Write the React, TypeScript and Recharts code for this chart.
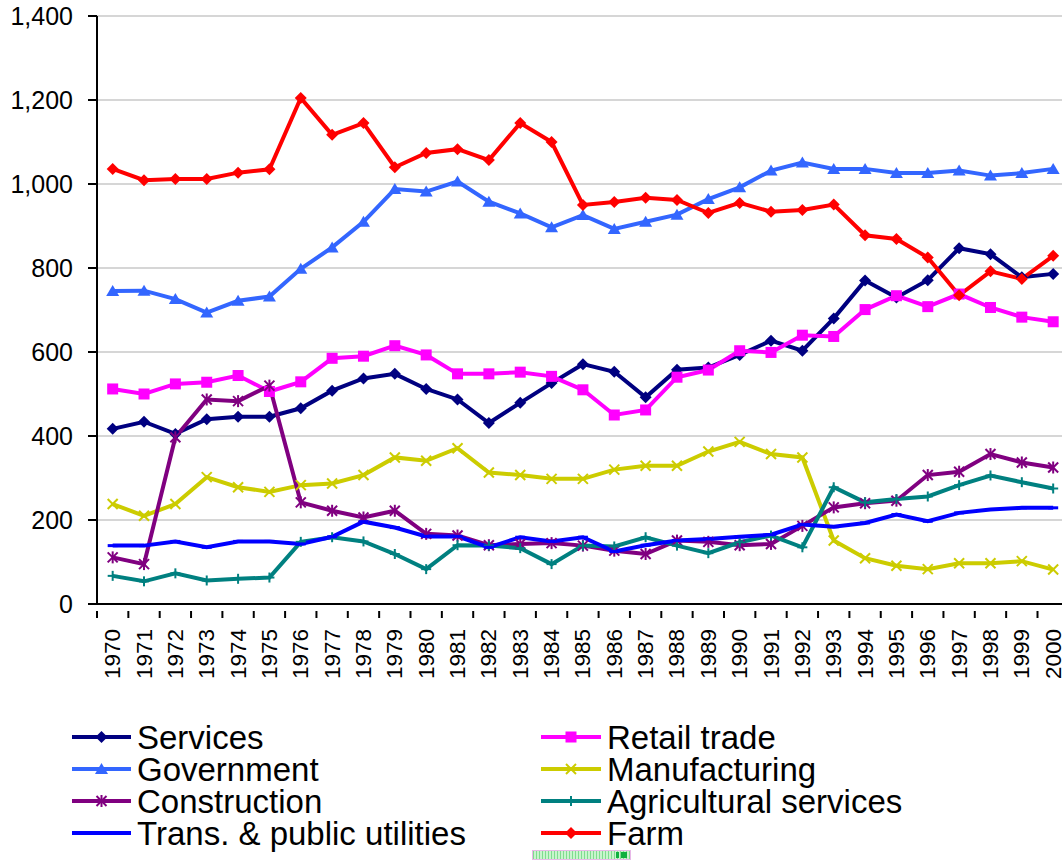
import React from "react"
import { LineChart, Line, XAxis, YAxis, CartesianGrid } from "recharts"

// Tick labels
const years = [
  "1970", "1971", "1972", "1973", "1974", "1975", "1976", "1977", "1978", "1979",
  "1980", "1981", "1982", "1983", "1984", "1985", "1986", "1987", "1988", "1989",
  "1990", "1991", "1992", "1993", "1994", "1995", "1996", "1997", "1998", "1999", "2000",
]
const yTicks = [0, 200, 400, 600, 800, 1000, 1200, 1400]

// Series values
const services = [
  417, 434, 405, 440, 446, 446, 466, 508, 537, 548,
  512, 487, 431, 479, 526, 571, 553, 492, 558, 563,
  593, 627, 603, 680, 770, 730, 771, 847, 833, 778, 786,
]
const retailTrade = [
  512, 500, 524, 528, 544, 506, 529, 585, 590, 615,
  593, 548, 548, 552, 542, 510, 450, 462, 540, 557,
  603, 599, 640, 637, 701, 734, 708, 738, 706, 683, 672,
]
const government = [
  745, 746, 726, 694, 722, 732, 798, 849, 910, 988,
  982, 1006, 958, 930, 897, 926, 893, 910, 927, 964,
  992, 1032, 1051, 1036, 1036, 1026, 1026, 1032, 1020, 1026, 1036,
]
const manufacturing = [
  238, 210, 238, 302, 278, 267, 283, 287, 307, 349,
  341, 371, 313, 307, 298, 298, 320, 329, 329, 363,
  386, 357, 349, 151, 109, 91, 83, 97, 97, 102, 82,
]
const construction = [
  111, 95, 397, 487, 483, 520, 242, 222, 206, 222,
  167, 163, 140, 143, 145, 139, 127, 119, 151, 148,
  140, 143, 186, 230, 240, 246, 307, 315, 357, 337, 325,
]
const agriculturalServices = [
  67, 54, 73, 56, 60, 63, 148, 159, 149, 119,
  83, 140, 139, 133, 95, 139, 137, 159, 139, 121,
  147, 163, 135, 278, 242, 250, 256, 283, 306, 290, 275,
]
const transUtilities = [
  139, 139, 149, 135, 149, 149, 143, 160, 196, 182,
  161, 161, 135, 159, 149, 159, 125, 140, 151, 155,
  160, 165, 189, 184, 193, 213, 197, 217, 225, 229, 229,
]
const farm = [
  1036, 1009, 1012, 1012, 1027, 1035, 1205, 1117, 1145, 1040,
  1074, 1083, 1057, 1145, 1100, 950, 957, 967, 962, 931,
  955, 934, 938, 951, 878, 869, 825, 735, 792, 774, 829,
]

const series = [
  { key: "services", name: "Services", values: services, color: "#000080", shape: "diamond" },
  { key: "retail", name: "Retail trade", values: retailTrade, color: "#FF00FF", shape: "square" },
  { key: "government", name: "Government", values: government, color: "#3366FF", shape: "triangle" },
  { key: "manufacturing", name: "Manufacturing", values: manufacturing, color: "#CCCC00", shape: "x" },
  { key: "construction", name: "Construction", values: construction, color: "#800080", shape: "star" },
  { key: "agri", name: "Agricultural services", values: agriculturalServices, color: "#008080", shape: "plus" },
  { key: "trans", name: "Trans. & public utilities", values: transUtilities, color: "#0000FF", shape: "dash" },
  { key: "farm", name: "Farm", values: farm, color: "#FF0000", shape: "diamond" },
]

const data = years.map((year, i) => {
  const row: Record<string, string | number> = { year }
  series.forEach((s) => {
    row[s.key] = s.values[i]
  })
  return row
})

const FONT = "'Liberation Sans', Arial, sans-serif"
const CHART_W = 1062
const Y_AXIS_W = 97
// category width; the plot runs a little past the right edge of the picture
const STEP = 31.35
const PAD_LEFT = STEP / 2
const PAD_RIGHT = CHART_W - Y_AXIS_W - PAD_LEFT - STEP * (years.length - 1)

function Marker({ shape, cx, cy, color }: { shape: string; cx: number; cy: number; color: string }) {
  switch (shape) {
    case "diamond":
      return <polygon points={`${cx},${cy - 6} ${cx + 6},${cy} ${cx},${cy + 6} ${cx - 6},${cy}`} fill={color} />
    case "square":
      return <rect x={cx - 5.5} y={cy - 5.5} width={11} height={11} fill={color} />
    case "triangle":
      return <polygon points={`${cx},${cy - 6} ${cx + 6.5},${cy + 5} ${cx - 6.5},${cy + 5}`} fill={color} />
    case "x":
      return (
        <g stroke={color} strokeWidth={2}>
          <line x1={cx - 5} y1={cy - 5} x2={cx + 5} y2={cy + 5} />
          <line x1={cx - 5} y1={cy + 5} x2={cx + 5} y2={cy - 5} />
        </g>
      )
    case "star":
      return (
        <g stroke={color} strokeWidth={2}>
          <line x1={cx - 5} y1={cy - 5} x2={cx + 5} y2={cy + 5} />
          <line x1={cx - 5} y1={cy + 5} x2={cx + 5} y2={cy - 5} />
          <line x1={cx} y1={cy - 6} x2={cx} y2={cy + 6} />
        </g>
      )
    case "plus":
      return (
        <g stroke={color} strokeWidth={2}>
          <line x1={cx} y1={cy - 5} x2={cx} y2={cy + 5} />
          <line x1={cx - 5} y1={cy} x2={cx + 5} y2={cy} />
        </g>
      )
    case "dash":
      return <line x1={cx - 5} y1={cy} x2={cx + 5} y2={cy} stroke={color} strokeWidth={3} />
    default:
      return null
  }
}

function YearTick(props: any) {
  const { x, y, payload } = props
  return (
    <g>
      <line x1={x - STEP / 2} y1={y - 1} x2={x - STEP / 2} y2={y + 6} stroke="#000" strokeWidth={2} />
      <text
        x={0}
        y={0}
        transform={`translate(${x}, ${y + 17}) rotate(-90)`}
        textAnchor="end"
        dominantBaseline="central"
        fontSize={22.5}
        fontFamily={FONT}
        fill="#000"
      >
        {payload.value}
      </text>
    </g>
  )
}

function ChartLegend() {
  const rowY = [737, 769, 801, 833]
  const cols = [
    { x1: 72, x2: 131, tx: 137 },
    { x1: 541, x2: 601, tx: 607 },
  ]
  return (
    <svg width={CHART_W} height={861} style={{ position: "absolute", left: 0, top: 0, pointerEvents: "none" }}>
      {series.map((s, i) => {
        const col = cols[i % 2]
        const cy = rowY[Math.floor(i / 2)]
        const mid = (col.x1 + col.x2) / 2
        return (
          <g key={s.key}>
            <line x1={col.x1} y1={cy} x2={col.x2} y2={cy} stroke={s.color} strokeWidth={4} />
            <Marker shape={s.shape} cx={mid} cy={cy} color={s.color} />
            <text x={col.tx} y={cy} dy="0.36em" fontSize={33} fontFamily={FONT} fill="#000">
              {s.name}
            </text>
          </g>
        )
      })}
    </svg>
  )
}

export default function App() {
  return (
    <div style={{ position: "absolute", left: 0, top: 0, width: CHART_W, height: 861, background: "#fff" }}>
      <LineChart width={CHART_W} height={720} data={data} margin={{ top: 16, right: 0, bottom: 16, left: 0 }}>
        <CartesianGrid vertical={false} stroke="#d6d6d6" strokeWidth={2} />
        <XAxis
          dataKey="year"
          interval={0}
          padding={{ left: PAD_LEFT, right: PAD_RIGHT }}
          tickLine={false}
          axisLine={{ stroke: "#000", strokeWidth: 2 }}
          tick={<YearTick />}
          height={100}
        />
        <YAxis
          width={Y_AXIS_W}
          domain={[0, 1400]}
          ticks={yTicks}
          interval={0}
          tickFormatter={(v: number) => v.toLocaleString("en-US")}
          tickSize={9}
          tickMargin={15}
          tickLine={{ stroke: "#000", strokeWidth: 2 }}
          axisLine={{ stroke: "#000", strokeWidth: 2 }}
          tick={{ fontSize: 25, fontFamily: FONT, fill: "#000" }}
        />
        {series.map((s) => (
          <Line
            key={s.key}
            dataKey={s.key}
            name={s.name}
            stroke={s.color}
            strokeWidth={4}
            isAnimationActive={false}
            dot={(p: any) => <Marker key={`${s.key}-${p.index}`} shape={s.shape} cx={p.cx} cy={p.cy} color={s.color} />}
            activeDot={false}
          />
        ))}
      </LineChart>
      <ChartLegend />
      <div
        style={{
          position: "absolute",
          left: 532,
          top: 850,
          width: 97,
          height: 8,
          border: "1px solid #e8b8e8",
          background: "repeating-linear-gradient(90deg, #7fdc8f 0 1px, #c8f5cc 1px 3px)",
        }}
      >
        <div style={{ position: "absolute", right: 3, top: 1, width: 6, height: 6, background: "#10b040" }} />
        <div style={{ position: "absolute", right: 11, top: 1, width: 3, height: 6, background: "#10b040" }} />
      </div>
    </div>
  )
}
